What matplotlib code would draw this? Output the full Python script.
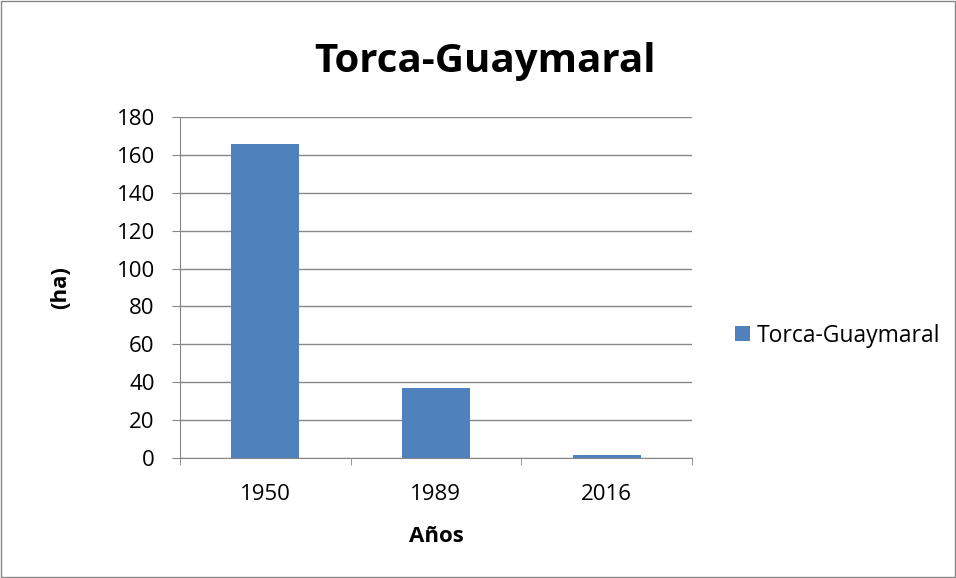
import numpy as np
import matplotlib.pyplot as plt
from matplotlib.patches import Rectangle

plt.rcParams['font.family'] = ['Open Sans', 'DejaVu Sans']

years = ['1950', '1989', '2016']
area_ha = [166, 37, 1.5]
series_name = 'Torca-Guaymaral'
bar_color = '#4F81BD'
grid_color = '#878787'

fig = plt.figure(figsize=(9.56, 5.78), dpi=100)
ax = fig.add_axes([0.188, 0.2076, 0.536, 0.59])

x = np.arange(len(years))
ax.bar(x, area_ha, width=0.4, color=bar_color, label=series_name, zorder=3)

ax.set_xlim(-0.5, len(years) - 0.5)
ax.set_ylim(0, 180)
ax.set_yticks(np.arange(0, 181, 20))
ax.set_xticks(x)
ax.set_xticklabels(years)
ax.set_xticks(np.arange(-0.5, len(years), 1), minor=True)
ax.tick_params(axis='x', which='major', length=0, labelsize=16, pad=18.5)
ax.tick_params(axis='x', which='minor', length=5, color=grid_color, direction='out')
ax.tick_params(axis='y', length=5.8, color=grid_color, labelsize=16, pad=12.2)

ax.grid(axis='y', color=grid_color, linewidth=1, zorder=0)
for side in ['top', 'right']:
    ax.spines[side].set_visible(False)
for side in ['left', 'bottom']:
    ax.spines[side].set_color(grid_color)

ax.set_xlabel('Años', fontsize=16, fontweight='bold')
ax.xaxis.set_label_coords(0.5, -0.2455)
ax.xaxis.label.set_va('baseline')
ax.set_ylabel('(ha)', fontsize=16, fontweight='bold')
ax.yaxis.set_label_coords(-0.232, 0.5)
ax.yaxis.label.set_va('center')

fig.text(0.507, 0.875, series_name, ha='center', va='baseline', fontsize=29, fontweight='bold')

fig.legend(loc='center left', bbox_to_anchor=(0.769, 0.4195), frameon=False, fontsize=16.5,
           handlelength=0.65, handleheight=0.65, handletextpad=0.28,
           borderpad=0, borderaxespad=0)

fig.patches.append(Rectangle((0.001, 0.001), 0.998, 0.998, transform=fig.transFigure,
                             fill=False, edgecolor=grid_color, linewidth=1))

fig.savefig('out.png', dpi=100)
